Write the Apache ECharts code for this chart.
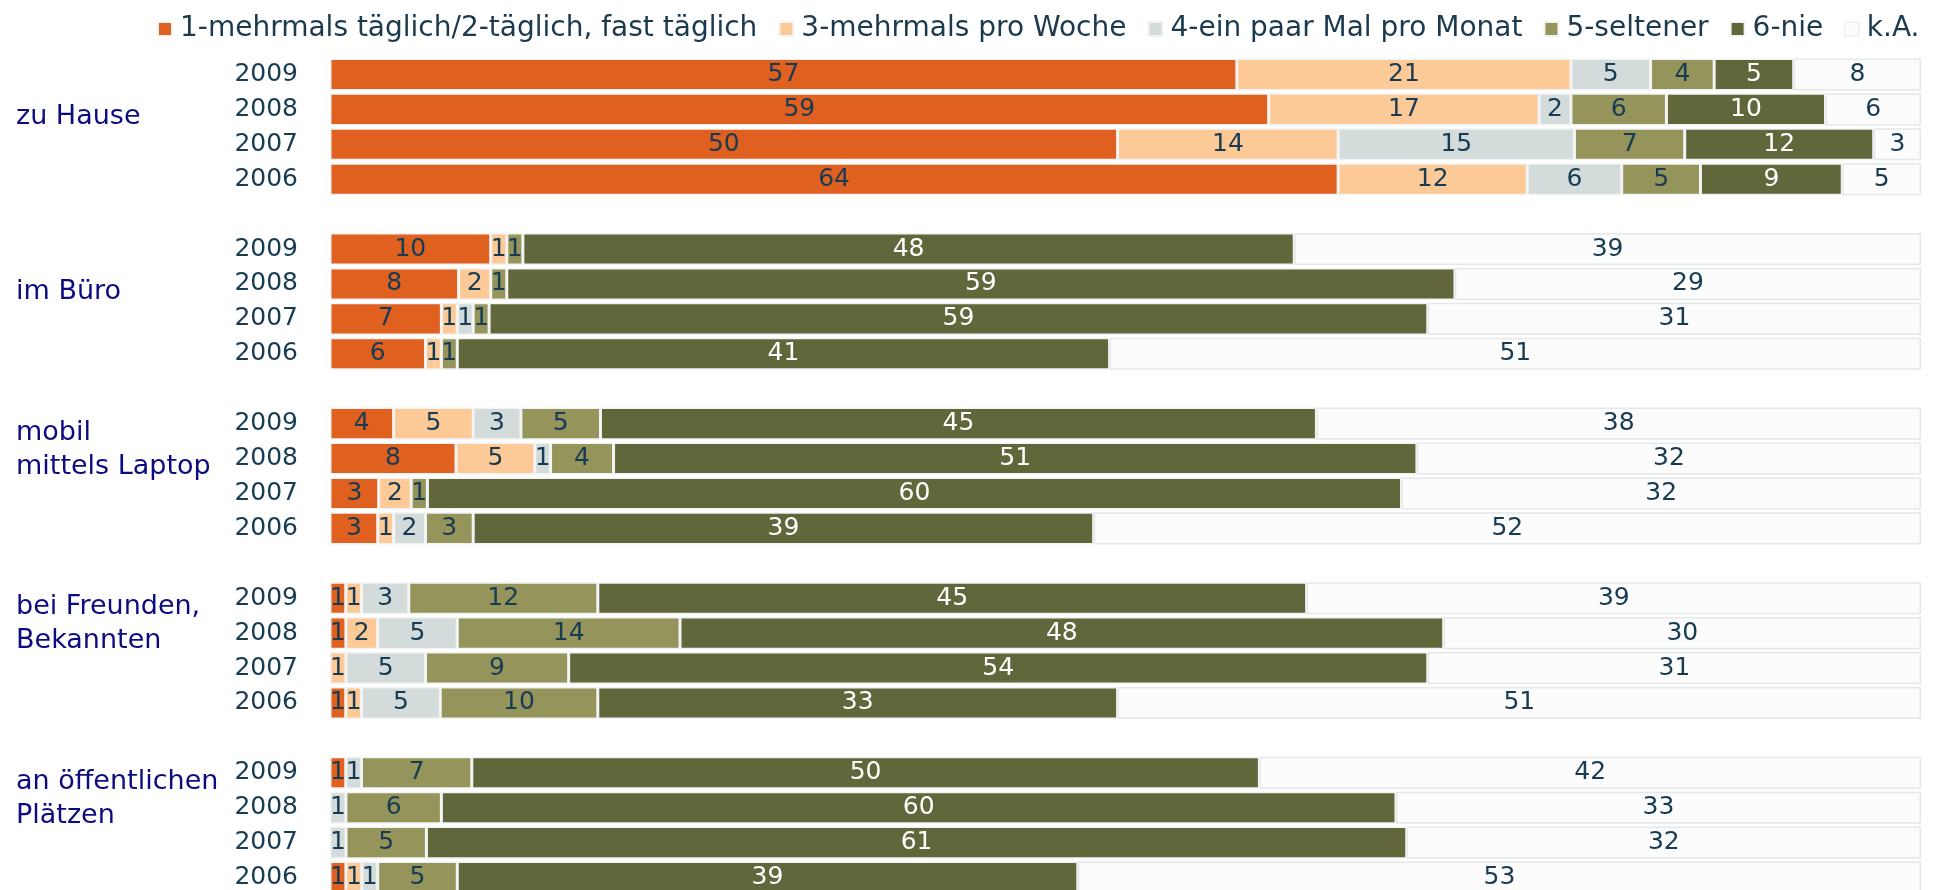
<!DOCTYPE html>
<html>
<head>
<meta charset="utf-8">
<script src="https://cdn.jsdelivr.net/npm/echarts@6/dist/echarts.min.js"></script>
<style>
html, body { margin: 0; padding: 0; background: #fff; }
#container { width: 1933px; height: 890px; }
</style>
</head>
<body>
<div id="container"></div>
<script>
var dom = document.getElementById("container");
var myChart = echarts.init(dom);

// Orte und Jahre (von oben nach unten)
var places = ['zu Hause', 'im Büro', 'mobil\nmittels Laptop', 'bei Freunden,\nBekannten', 'an öffentlichen\nPlätzen'];
var years = ['2009', '2008', '2007', '2006'];

var legendNames = ['1-mehrmals täglich/2-täglich, fast täglich', '3-mehrmals pro Woche', '4-ein paar Mal pro Monat', '5-seltener', '6-nie', 'k.A.'];
var colors = ['#e06020', '#fdc996', '#d3dbdb', '#95945b', '#61673a', '#fcfcfc'];

// Werte je Kategorie, 5 Orte x 4 Jahre (2009..2006)
var taeglich = [57, 59, 50, 64,  10, 8, 7, 6,    4, 8, 3, 3,     1, 1, 0, 1,      1, 0, 0, 1];
var woche    = [21, 17, 14, 12,  1, 2, 1, 1,     5, 5, 2, 1,     1, 2, 1, 1,      0, 0, 0, 1];
var monat    = [5, 2, 15, 6,     0, 0, 1, 0,     3, 1, 0, 2,     3, 5, 5, 5,      1, 1, 1, 1];
var seltener = [4, 6, 7, 5,      1, 1, 1, 1,     5, 4, 1, 3,     12, 14, 9, 10,   7, 6, 5, 5];
var nie      = [5, 10, 12, 9,    48, 59, 59, 41, 45, 51, 60, 39, 45, 48, 54, 33,  50, 60, 61, 39];
var keineAng = [8, 6, 3, 5,      39, 29, 31, 51, 38, 32, 32, 52, 39, 30, 31, 51,  42, 33, 32, 53];

var seriesValues = [taeglich, woche, monat, seltener, nie, keineAng];

// Kategorieachse: 4 Jahre pro Ort, dazwischen eine Leerzeile
var rows = [];
places.forEach(function (p, gi) {
    if (gi > 0) rows.push({ id: 'gap' + gi, year: '', place: '', src: -1 });
    years.forEach(function (y, yi) {
        var txt = '';
        if (yi === 0) {
            var lines = p.split('\n');
            if (lines.length < 2) lines.unshift(' ');
            txt = '{s| }\n' + lines.map(function (l) { return '{a|' + l + '}'; }).join('\n');
        }
        rows.push({ id: p + ' ' + y, year: y, place: txt, src: gi * 4 + yi });
    });
});

var totals = taeglich.map(function (v, i) {
    return seriesValues.reduce(function (s, arr) { return s + arr[i]; }, 0);
});

var series = seriesValues.map(function (arr, si) {
    return {
        name: legendNames[si],
        type: 'bar',
        stack: 'all',
        barWidth: '92%',
        data: rows.map(function (r) {
            if (r.src < 0 || !arr[r.src]) return '-';
            return { value: arr[r.src] / totals[r.src] * 100, raw: arr[r.src] };
        }),
        itemStyle: {
            color: colors[si],
            borderColor: si === 5 ? '#e3e8e8' : '#f2f4f4',
            borderWidth: 1.5
        },
        label: {
            show: true,
            position: 'inside',
            fontFamily: 'DejaVu Sans',
            fontSize: 25,
            color: si === 4 ? '#ffffff' : '#173b52',
            formatter: function (p) { return p.data.raw; }
        },
        emphasis: { disabled: true }
    };
});

option = {
    animation: false,
    legend: {
        top: 10,
        left: 152,
        width: 1800,
        itemWidth: 14,
        itemHeight: 14,
        itemGap: 21,
        icon: 'rect',
        data: legendNames.map(function (n, i) {
            return { name: n, itemStyle: i === 5 ? { color: '#fcfcfc', borderColor: '#e3e8e8', borderWidth: 1 } : undefined };
        }),
        textStyle: {
            fontFamily: 'DejaVu Sans',
            fontSize: 28,
            color: '#1b3a4e',
            padding: [0, 0, 0, 3]
        }
    },
    grid: {
        left: 330,
        right: 12,
        top: 57,
        height: 838,
        outerBoundsMode: 'none'
    },
    xAxis: {
        type: 'value',
        min: 0,
        max: 100,
        show: false
    },
    yAxis: [{
        type: 'category',
        inverse: true,
        data: rows.map(function (r) { return r.id; }),
        axisLine: { show: false },
        axisTick: { show: false },
        axisLabel: {
            interval: 0,
            margin: 32,
            fontFamily: 'DejaVu Sans',
            fontSize: 25,
            color: '#173b52',
            formatter: function (v, i) { return rows[i].year; }
        }
    }, {
        type: 'category',
        inverse: true,
        position: 'left',
        data: rows.map(function (r) { return r.id; }),
        axisLine: { show: false },
        axisTick: { show: false },
        axisLabel: {
            interval: 0,
            margin: 314,
            align: 'left',
            verticalAlign: 'middle',
            formatter: function (v, i) { return rows[i].place; },
            rich: {
                s: { lineHeight: 52, fontSize: 10 },
                a: {
                    lineHeight: 34,
                    fontFamily: 'DejaVu Sans',
                    fontSize: 27,
                    color: '#0c0c80'
                }
            }
        }
    }],
    series: series
};

if (option && typeof option === "object") {
    myChart.setOption(option, true);
}
</script>
</body>
</html>
